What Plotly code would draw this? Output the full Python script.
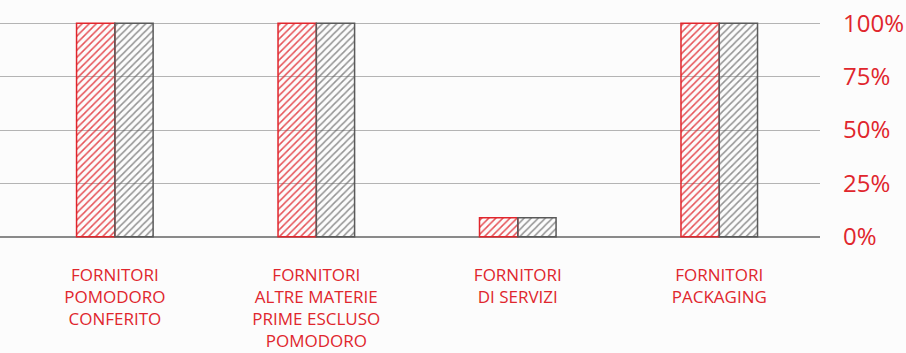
import plotly.graph_objects as go

categories = [
    "FORNITORI<br>POMODORO<br>CONFERITO",
    "FORNITORI<br>ALTRE MATERIE<br>PRIME ESCLUSO<br>POMODORO",
    "FORNITORI<br>DI SERVIZI",
    "FORNITORI<br>PACKAGING",
]
serie_rossa = [100, 100, 9, 100]
serie_grigia = [100, 100, 9, 100]
tick_vals = [0, 25, 50, 75, 100]
tick_text = ["0%", "25%", "50%", "75%", "100%"]

RED = "#e0262d"
GRAY = "#5a5a5a"

fig = go.Figure()
fig.add_trace(go.Bar(
    x=categories, y=serie_rossa, name="Serie 1",
    marker=dict(
        color="rgba(255,255,255,0)",
        line=dict(color=RED, width=1.5),
        pattern=dict(shape="/", fgcolor=RED, fgopacity=0.8, size=5, solidity=0.3, fillmode="overlay"),
    ),
))
fig.add_trace(go.Bar(
    x=categories, y=serie_grigia, name="Serie 2",
    marker=dict(
        color="rgba(255,255,255,0)",
        line=dict(color=GRAY, width=1.5),
        pattern=dict(shape="/", fgcolor=GRAY, fgopacity=0.65, size=5, solidity=0.3, fillmode="overlay"),
    ),
))

fig.update_layout(
    width=906, height=353,
    margin=dict(l=0, r=86, t=21, b=114, autoexpand=False),
    paper_bgcolor="#fcfcfc",
    plot_bgcolor="#fcfcfc",
    barmode="group",
    bargap=0.62,
    bargroupgap=0,
    showlegend=False,
    font=dict(family="Open Sans", color=RED),
)
fig.update_xaxes(
    type="category",
    range=[-0.57, 3.5],
    showgrid=False,
    showline=False,
    zeroline=False,
    ticks="",
    automargin=False,
    ticklabelstandoff=24,
    tickfont=dict(family="Open Sans", size=17, color=RED),
)
fig.update_yaxes(
    range=[-1, 101],
    side="right",
    tickvals=tick_vals,
    ticktext=tick_text,
    showgrid=True,
    gridcolor="#b4b4b4",
    gridwidth=1,
    zeroline=True,
    zerolinecolor="#8a8a8a",
    zerolinewidth=2,
    showline=False,
    ticks="",
    automargin=False,
    ticklabelstandoff=22,
    tickfont=dict(family="Open Sans", size=24, color=RED),
)

fig.write_html(
    "out.html",
    config={"displayModeBar": False},
    post_script="document.body.style.margin='0';document.body.style.overflow='hidden';",
)
